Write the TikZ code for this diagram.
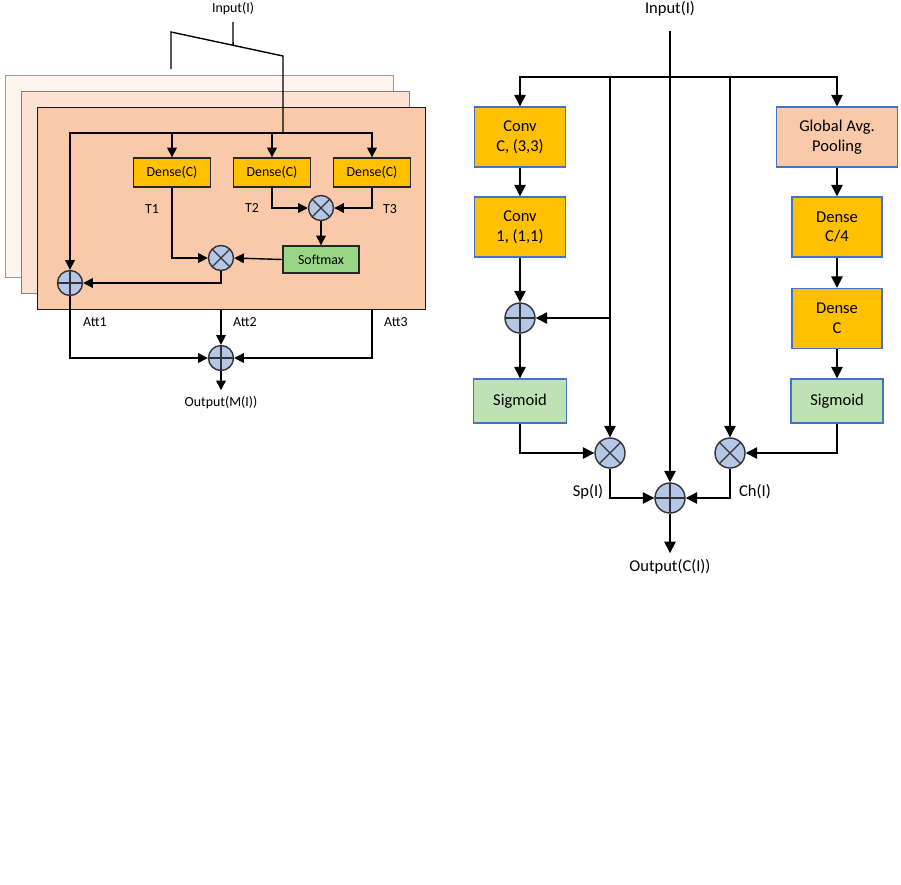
\documentclass[tikz,border=0pt]{standalone}
\usepackage{fontspec}
\setmainfont{Carlito}
\usepackage{xcolor}
\usetikzlibrary{positioning,calc,arrows.meta}

\definecolor{peachfront}{HTML}{F9C9A9}
\definecolor{peachmid}{HTML}{FDE2D3}
\definecolor{peachback}{HTML}{FEF3ED}
\definecolor{gold}{HTML}{FFC000}
\definecolor{softgreen}{HTML}{98D585}
\definecolor{siggreen}{HTML}{BFE2B4}
\definecolor{opblue}{HTML}{B4C7E7}
\definecolor{boxblue}{HTML}{4472C4}

\begin{document}
\begin{tikzpicture}[x=0.2mm, y=-0.2mm, line width=0.8pt,
    >={Triangle[length=5.5pt,width=5.5pt]},
    bigtip/.style={-{Triangle[length=6.5pt,width=6.5pt]}},
    small/.style={font=\fontsize{7.9}{9.5}\selectfont},
    big/.style={font=\fontsize{9.4}{11.3}\selectfont, align=center},
    head/.style={draw, anchor=north west, minimum width=77.6mm, minimum height=40.4mm},
    densebox/.style={small, draw=black!85, fill=gold, minimum width=15.4mm, minimum height=5.8mm, inner sep=0},
    bluebox/.style={big, draw=boxblue, fill=gold, minimum width=18.2mm, minimum height=12mm, inner sep=0},
    opsum/.style={circle, draw=black!80, fill=opblue, inner sep=0, minimum size=#1,
        path picture={\draw[line width=0.7pt] (path picture bounding box.north) -- (path picture bounding box.south)
            (path picture bounding box.west) -- (path picture bounding box.east);}},
    opmul/.style={circle, draw=black!80, fill=opblue, inner sep=0, minimum size=#1,
        path picture={\draw[line width=0.7pt] (path picture bounding box.north west) -- (path picture bounding box.south east)
            (path picture bounding box.north east) -- (path picture bounding box.south west);}}]
    \useasboundingbox (0,0) rectangle (901,884);

    % Multi-head attention
    \node[head, draw=black!40, fill=peachback] (head3) at (5,75) {};
    \node[head, draw=black!50, fill=peachmid] (head2) at (21,91) {};
    \node[head, draw=black!90, fill=peachfront] (head1) at (37,107) {};

    \node[small] (inL) at (233,9) {Input(I)};
    \coordinate (sl1) at (171,32);
    \coordinate (sl2) at (283,56);
    \coordinate (distL) at (283,133);
    \draw (inL.south) -- ($(sl1)!0.554!(sl2)$);
    \draw (sl1 |- head3.north) ++(0,-6) -- (sl1) -- (sl2) -- (distL);
    \draw ($(sl1)!0.455!(sl2)$) -- ($(sl1)!0.455!(sl2)$ |- head2.north);

    \node[densebox] (dense1) at (172,172.5) {Dense(C)};
    \node[densebox] (dense2) at (272,172.5) {Dense(C)};
    \node[densebox] (dense3) at (372,172.5) {Dense(C)};
    \node[small] (t1) at (152,209) {T1};
    \node[small] (t2) at (252,208) {T2};
    \node[small] (t3) at (390,209) {T3};
    \node[opmul=5mm] (mul1) at (321,208) {};
    \node[opmul=5mm] (mul2) at (221,258) {};
    \node[small, draw=black!85, fill=softgreen, minimum width=15.2mm, minimum height=5.4mm, inner sep=0] (softmax) at (321,259.5) {Softmax};
    \node[opsum=5mm] (plus1) at (70,283) {};
    \node[opsum=5mm] (plusL) at (221,358) {};

    \draw[->] (distL) -| (plus1.north);
    \draw[->] (distL) -| (dense3.north);
    \draw[->] (dense1.north |- distL) -- (dense1.north);
    \draw[->] (dense2.north |- distL) -- (dense2.north);
    \draw[->] (dense2.south) |- (mul1.west);
    \draw[->] (dense3.south) |- (mul1.east);
    \draw[->] (mul1.south) -- (softmax.north);
    \draw[->] (dense1.south) |- (mul2.west);
    \draw[->] (softmax.west) -- (mul2.east);
    \draw[->] (mul2.south) |- (plus1.east);

    \node[small] (att1) at (95,322) {Att1};
    \node[small] (att2) at (245,322) {Att2};
    \node[small] (att3) at (396,322) {Att3};
    \draw[->] (plus1.south) |- (plusL.west);
    \draw[->] (plusL.north |- head1.south) -- (plusL.north);
    \draw[->] (dense3.south |- head1.south) |- (plusL.east);
    \node[small] (outL) at (221,403) {Output(M(I))};
    \draw[->] (plusL.south) -- (outL.north);

    % Spatial and channel attention
    \node[big] (inR) at (670,9) {Input(I)};
    \coordinate (hub) at (670,77);
    \node[bluebox] (conv1) at (520,137) {Conv\\C, (3,3)};
    \node[bluebox] (conv2) at (520,227) {Conv\\1, (1,1)};
    \node[opsum=6mm] (plusS) at (520,318) {};
    \node[bluebox, fill=siggreen, minimum width=18.6mm, minimum height=8.8mm] (sig1) at (520,401) {Sigmoid};
    \node[opmul=6mm] (mulSp) at (610,453) {};
    \node[bluebox, fill=peachfront, minimum width=24.2mm] (gap) at (837,137) {Global Avg.\\Pooling};
    \node[bluebox, minimum width=18mm] (dense4) at (837,227) {Dense\\C/4};
    \node[bluebox, minimum width=18mm] (denseC) at (837,318.5) {Dense\\C};
    \node[bluebox, fill=siggreen, minimum width=18.4mm, minimum height=8.8mm] (sig2) at (837,401) {Sigmoid};
    \node[opmul=6mm] (mulCh) at (730,453) {};
    \node[opsum=6mm] (plusR) at (670,498) {};
    \node[big] (sp) at (588,492) {Sp(I)};
    \node[big] (ch) at (755,492) {Ch(I)};
    \node[big] (outR) at (670,567) {Output(C(I))};

    \draw[bigtip] (inR.south) ++(0,8) -- (plusR.north);
    \draw[bigtip] (hub) -| (conv1.north);
    \draw[bigtip] (hub) -| (gap.north);
    \draw[bigtip] (conv1) -- (conv2);
    \draw[bigtip] (conv2) -- (plusS);
    \draw[bigtip] (plusS) -- (sig1);
    \draw[bigtip] (mulSp.north |- hub) -- (mulSp.north);
    \draw[bigtip] (mulSp.north |- plusS) -- (plusS.east);
    \draw[bigtip] (mulCh.north |- hub) -- (mulCh.north);
    \draw[bigtip] (sig1.south) |- (mulSp.west);
    \draw[bigtip] (gap) -- (dense4);
    \draw[bigtip] (dense4) -- (denseC);
    \draw[bigtip] (denseC) -- (sig2);
    \draw[bigtip] (sig2.south) |- (mulCh.east);
    \draw[bigtip] (mulSp.south) |- (plusR.west);
    \draw[bigtip] (mulCh.south) |- (plusR.east);
    \draw[bigtip] (plusR.south) -- (outR.north);
\end{tikzpicture}
\end{document}
